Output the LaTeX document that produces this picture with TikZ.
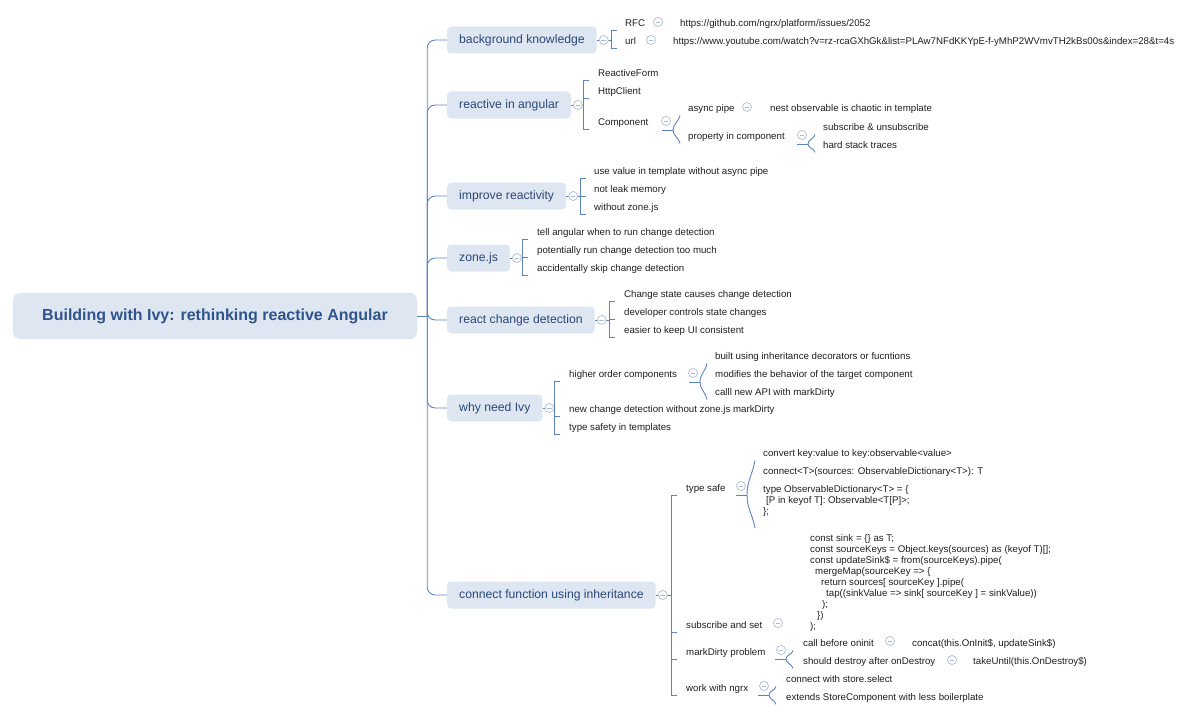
\documentclass[tikz,border=0pt]{standalone}
\usepackage{fontspec}
\setmainfont{Liberation Sans}
\usetikzlibrary{positioning, calc}
\definecolor{ink}{RGB}{30,30,32}
\definecolor{topicink}{RGB}{43,72,118}
\definecolor{rootink}{RGB}{47,84,140}
\definecolor{topicfill}{RGB}{222,230,242}
\definecolor{branch}{RGB}{96,130,188}
\definecolor{foldc}{RGB}{172,188,214}
\tikzset{
  root/.style  ={rectangle, rounded corners=7pt, fill=topicfill, text=rootink,
                 font=\fontsize{16}{19}\selectfont\bfseries, minimum width=404pt, minimum height=46pt},
  topic/.style ={rectangle, rounded corners=4pt, fill=topicfill, text=topicink, anchor=west,
                 font=\fontsize{12.2}{14}\selectfont, inner xsep=12pt, minimum height=27pt},
  leaf/.style  ={anchor=west, inner xsep=0pt, inner ysep=3.5pt, text height=9.5pt, text depth=0pt,
                 text=ink, font=\fontsize{9.7}{11}\selectfont},
  block/.style ={anchor=base west, inner sep=0pt, align=left, text=ink,
                 font=\fontsize{9.7}{10.9}\selectfont},
  fold/.style  ={circle, draw=foldc, fill=white, minimum size=9pt, inner sep=0pt, line width=0.7pt,
                 path picture={\draw[foldc, line width=0.7pt]
                   ([xshift=2.2pt]path picture bounding box.west) -- ([xshift=-2.2pt]path picture bounding box.east);}},
  link/.style  ={draw=branch, line width=0.9pt},
}
\begin{document}
\begin{tikzpicture}[x=1pt, y=-1pt]
\useasboundingbox (0,0) rectangle (1200,717);
\node[root] (root) at (215,316) {Building with Ivy: rethinking reactive Angular};

% main topics
\node[topic] (bg)   at (447,40)  {background knowledge};
\node[topic] (rea)  at (447,105) {reactive in angular};
\node[topic] (imp)  at (447,196) {improve reactivity};
\node[topic] (zone) at (447,258) {zone.js};
\node[topic] (rcd)  at (447,320) {react change detection};
\node[topic] (ivy)  at (447,408) {why need Ivy};
\node[topic] (conn) at (447,595) {connect function using inheritance};

\coordinate (hub) at ($(root.east)+(10,0)$);
\draw[link] (root.east) -- (hub);
\foreach \t in {bg,rea,imp,zone,rcd,ivy,conn}
  \draw[link, rounded corners=8pt] (hub) |- (\t.west);

% background knowledge
\node[leaf] (rfc) at (625,22) {RFC};
\node[leaf] (url) at (625,40) {url};
\node[fold] (frfc) at (658,22) {};
\node[fold] (furl) at (651,40) {};
\node[leaf] (rfcv) at (680,22) {https://github.com/ngrx/platform/issues/2052};
\node[leaf] (urlv) at (673,40) {https://www.youtube.com/watch?v=rz-rcaGXhGk\&list=PLAw7NFdKKYpE-f-yMhP2WVmvTH2kBs00s\&index=28\&t=4s};

% reactive in angular
\node[leaf] (rf)   at (598,72)  {ReactiveForm};
\node[leaf] (http) at (598,90)  {HttpClient};
\node[leaf] (cmp)  at (598,121) {Component};
\node[leaf] (asp)  at (688,107) {async pipe};
\node[fold] (fasp) at (747,107) {};
\node[leaf] (aspv) at (770,107) {nest observable is chaotic in template};
\node[leaf] (pic)  at (688,135) {property in component};
\node[leaf] (sub)  at (823,126) {subscribe \& unsubscribe};
\node[leaf] (hst)  at (823,144) {hard stack traces};

% improve reactivity, zone.js, react change detection
\foreach \n/\y/\s in {imp1/170/use value in template without async pipe,
                      imp2/188/not leak memory, imp3/206/without zone.js}
  \node[leaf] (\n) at (594,\y) {\s};
\foreach \n/\y/\s in {zn1/231/tell angular when to run change detection,
                      zn2/249/potentially run change detection too much,
                      zn3/267/accidentally skip change detection}
  \node[leaf] (\n) at (537,\y) {\s};
\foreach \n/\y/\s in {rc1/293/Change state causes change detection,
                      rc2/311/developer controls state changes,
                      rc3/329/easier to keep UI consistent}
  \node[leaf] (\n) at (624,\y) {\s};

% why need Ivy
\node[leaf] (hoc) at (569,373) {higher order components};
\node[leaf] (ncd) at (569,408) {new change detection without zone.js markDirty};
\node[leaf] (tst) at (569,426) {type safety in templates};
\foreach \n/\y/\s in {hc1/355/built using inheritance decorators or fucntions,
                      hc2/373/modifies the behavior of the target component,
                      hc3/391/calll new API with markDirty}
  \node[leaf] (\n) at (715,\y) {\s};

% connect function using inheritance
\node[leaf] (ts)  at (686,487) {type safe};
\node[leaf] (sas) at (686,624) {subscribe and set};
\node[leaf] (mdp) at (686,651) {markDirty problem};
\node[leaf] (wng) at (686,687) {work with ngrx};
\node[leaf] (ts1) at (763,452) {convert key:value to key:observable<value>};
\node[leaf] (ts2) at (763,470) {connect<T>(sources: ObservableDictionary<T>): T};
\node[block] (ts3) at (763,514) {type ObservableDictionary<T> = \{\\
\hspace*{3pt}[P in keyof T]: Observable<T[P]>;\\
\};};
\node[block] (code) at (810,629) {const sink = \{\} as T;\\
const sourceKeys = Object.keys(sources) as (keyof T)[];\\
const updateSink\$ = from(sourceKeys).pipe(\\
\hspace*{5pt}mergeMap(sourceKey => \{\\
\hspace*{11pt}return sources[ sourceKey ].pipe(\\
\hspace*{16pt}tap((sinkValue => sink[ sourceKey ] = sinkValue))\\
\hspace*{12pt});\\
\hspace*{7pt}\})\\
);};
\node[leaf] (cbo)  at (803,642) {call before oninit};
\node[leaf] (sdo)  at (803,660) {should destroy after onDestroy};
\node[leaf] (cbov) at (912,642) {concat(this.OnInit\$, updateSink\$)};
\node[leaf] (sdov) at (973,660) {takeUntil(this.OnDestroy\$)};
\node[leaf] (wn1)  at (786,678) {connect with store.select};
\node[leaf] (wn2)  at (786,696) {extends StoreComponent with less boilerplate};

% brackets of the main topics
\coordinate (bgk)   at (611,40);
\coordinate (reak)  at (583,105);
\coordinate (impk)  at (580,196);
\coordinate (zonek) at (522,258);
\coordinate (rcdk)  at (609,320);
\coordinate (ivyk)  at (554,408);
\coordinate (connk) at (671,595);
\foreach \t/\a/\b in {bg/rfc/url, rea/rf/cmp, imp/imp1/imp3, zone/zn1/zn3,
                      rcd/rc1/rc3, ivy/hoc/tst, conn/ts/wng} {
  \draw[link] (\t.east) -- (\t k);
  \draw[link] (\t k |- \a.south) -- (\t k |- \b.south);
}
\foreach \t/\c in {bg/rfc, bg/url, rea/rf, rea/http, rea/cmp, imp/imp1, imp/imp2, imp/imp3,
                   zone/zn1, zone/zn2, zone/zn3, rcd/rc1, rcd/rc2, rcd/rc3,
                   ivy/hoc, ivy/ncd, ivy/tst, conn/ts, conn/sas, conn/mdp, conn/wng}
  \draw[link] (\t k |- \c.south) -- ++(6,0);
\foreach \t in {bg,rea,imp,zone,rcd,ivy,conn}
  \node[fold, right=2pt of \t] (f\t) {};

% curved braces of the sub topics
\coordinate (cmpk) at (673,130);
\coordinate (pick) at (808,144);
\coordinate (hock) at (700,382);
\coordinate (tsk)  at (747,495);
\coordinate (mdpk) at (786,659);
\coordinate (wngk) at (769,695);
\foreach \p/\a/\b in {cmp/asp/pic, pic/sub/hst, hoc/hc1/hc3, mdp/cbo/sdo, wng/wn1/wn2} {
  \draw[link] ($(\p k)+(-11,0)$) -- (\p k);
  \draw[link] ($(\a.south -| \p k)+(7,0)$) to[out=-100,in=90] (\p k)
    to[out=-90,in=100] ($(\b.south -| \p k)+(7,0)$);
}
\draw[link] ($(tsk)+(-11,0)$) -- (tsk);
\draw[link] ($(ts1.south -| tsk)+(8,0)$) to[out=-100,in=90] (tsk)
  to[out=-90,in=100] ($(tsk)+(8,33)$);

\node[fold] (fcmp) at (666,121) {};
\node[fold] (fpic) at (802,135) {};
\node[fold] (fhoc) at (693,373) {};
\node[fold] (fts)  at (741,486) {};
\node[fold] (fsas) at (778,623) {};
\node[fold] (fmdp) at (781,650) {};
\node[fold] (fcbo) at (890,641) {};
\node[fold] (fsdo) at (952,660) {};
\node[fold] (fwng) at (764,686) {};
\end{tikzpicture}
\end{document}
